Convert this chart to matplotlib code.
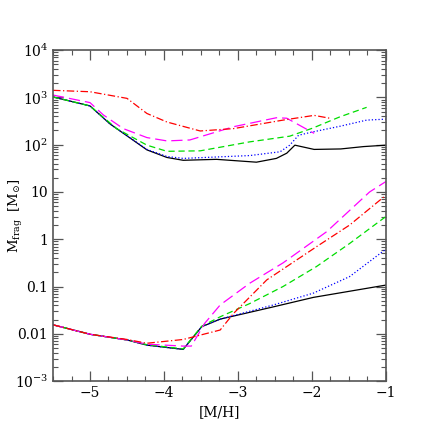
import matplotlib
matplotlib.use("Agg")
import matplotlib.pyplot as plt
from matplotlib.ticker import FixedLocator, FixedFormatter, LogLocator, MultipleLocator, NullFormatter
import numpy as np

plt.rcParams['font.family'] = ['DejaVu Serif']
plt.rcParams['mathtext.fontset'] = 'dejavuserif'

# Upper branch (log10 M_frag)
x_blk_u = [-5.5, -5.0, -4.73, -4.23, -3.96, -3.74, -3.29, -2.75, -2.48, -2.34, -2.23, -1.97, -1.61, -1.30, -1.0]
y_blk_u = [3.01, 2.82, 2.44, 1.89, 1.73, 1.67, 1.69, 1.63, 1.71, 1.82, 1.99, 1.90, 1.91, 1.96, 1.99]

x_blu_u = [-5.5, -5.0, -4.73, -4.23, -3.96, -3.74, -2.84, -2.43, -2.30, -2.18, -1.99, -1.62, -1.26, -1.0]
y_blu_u = [3.01, 2.82, 2.44, 1.90, 1.75, 1.71, 1.77, 1.85, 1.99, 2.20, 2.27, 2.39, 2.52, 2.54]

x_grn_u = [-5.5, -5.0, -4.64, -4.23, -3.96, -3.51, -2.84, -2.30, -1.99, -1.62, -1.26]
y_grn_u = [3.01, 2.82, 2.34, 1.99, 1.86, 1.87, 2.06, 2.18, 2.35, 2.59, 2.79]

x_mag_u = [-5.5, -5.0, -4.82, -4.55, -4.23, -3.96, -3.65, -3.06, -2.48, -2.34, -1.97]
y_mag_u = [3.05, 2.89, 2.63, 2.34, 2.15, 2.08, 2.10, 2.38, 2.57, 2.56, 2.24]

x_red_u = [-5.5, -5.0, -4.50, -4.23, -3.96, -3.51, -3.06, -2.39, -1.97, -1.76]
y_red_u = [3.15, 3.12, 2.98, 2.66, 2.48, 2.29, 2.34, 2.52, 2.62, 2.56]

# Lower branch (log10 M_frag)
x_blk_l = [-5.5, -5.0, -4.50, -4.23, -3.74, -3.49, -3.24, -2.52, -1.98, -1.0]
y_blk_l = [-1.81, -2.01, -2.13, -2.24, -2.33, -1.85, -1.69, -1.43, -1.23, -0.97]

x_blu_l = [-5.5, -5.0, -4.50, -4.23, -3.74, -3.49, -3.24, -2.52, -1.98, -1.49, -1.0]
y_blu_l = [-1.81, -2.01, -2.13, -2.24, -2.33, -1.85, -1.69, -1.39, -1.14, -0.79, -0.21]

x_grn_l = [-5.5, -5.0, -4.50, -4.23, -3.74, -3.49, -3.24, -2.84, -2.39, -1.94, -1.49, -1.0]
y_grn_l = [-1.81, -2.01, -2.13, -2.23, -2.32, -1.84, -1.64, -1.36, -1.00, -0.58, -0.09, 0.48]

x_mag_l = [-5.5, -5.0, -4.50, -4.23, -3.74, -3.63, -3.45, -3.24, -2.84, -2.39, -1.80, -1.22, -1.0]
y_mag_l = [-1.81, -2.01, -2.13, -2.22, -2.26, -2.26, -1.78, -1.39, -0.93, -0.50, 0.16, 1.00, 1.22]

x_red_l = [-5.5, -5.0, -4.50, -4.23, -3.74, -3.24, -3.06, -2.61, -1.94, -1.49, -1.0]
y_red_l = [-1.81, -2.01, -2.12, -2.20, -2.12, -1.92, -1.57, -0.86, -0.16, 0.30, 0.93]

ytick_vals = [1e-3, 1e-2, 1e-1, 1, 10, 1e2, 1e3, 1e4]
ytick_labels = [r'$10^{-3}$', '0.01', '0.1', '1', '10', r'$10^{2}$', r'$10^{3}$', r'$10^{4}$']
xtick_vals = [-5, -4, -3, -2, -1]
xtick_labels = ['\u22125', '\u22124', '\u22123', '\u22122', '\u22121']

fig = plt.figure(figsize=(4.36, 4.36), dpi=100)
ax = fig.add_axes([0.1216, 0.126, 0.7634, 0.759])

styles = [
    ('black', '-'),
    ('blue', ':'),
    ('#00dd00', (0, (5, 3))),
    ('magenta', (0, (9, 4))),
    ('red', (0, (6, 2, 1, 2))),
]
series = [
    (x_blk_u, y_blk_u, x_blk_l, y_blk_l),
    (x_blu_u, y_blu_u, x_blu_l, y_blu_l),
    (x_grn_u, y_grn_u, x_grn_l, y_grn_l),
    (x_mag_u, y_mag_u, x_mag_l, y_mag_l),
    (x_red_u, y_red_u, x_red_l, y_red_l),
]
for (c, ls), (xu, yu, xl, yl) in zip(styles, series):
    ax.plot(xu, 10**np.array(yu), color=c, ls=ls, lw=0.9)
    ax.plot(xl, 10**np.array(yl), color=c, ls=ls, lw=0.9)

ax.set_yscale('log')
ax.set_xlim(-5.5, -1)
ax.set_ylim(1e-3, 1e4)
ax.yaxis.set_major_locator(FixedLocator(ytick_vals))
ax.yaxis.set_major_formatter(FixedFormatter(ytick_labels))
ax.yaxis.set_minor_locator(LogLocator(base=10, subs=np.arange(2, 10), numticks=20))
ax.yaxis.set_minor_formatter(NullFormatter())
ax.xaxis.set_major_locator(FixedLocator(xtick_vals))
ax.xaxis.set_major_formatter(FixedFormatter(xtick_labels))
ax.xaxis.set_minor_locator(MultipleLocator(0.25))

ax.tick_params(which='both', direction='in', top=True, right=True, labelsize=10, color='#555555')
ax.tick_params(which='major', length=7, width=0.9)
ax.tick_params(which='minor', length=3.5, width=0.8)
for s in ax.spines.values():
    s.set_color('#555555')
    s.set_linewidth(1.2)

ax.set_xlabel('[M/H]', fontsize=10)
ax.set_ylabel(r'$\mathrm{M_{frag}}\ \ [\mathrm{M}_{\odot}]$', fontsize=9.5)
ax.yaxis.set_label_coords(-0.085, 0.5)

fig.savefig('out.png', dpi=100)
